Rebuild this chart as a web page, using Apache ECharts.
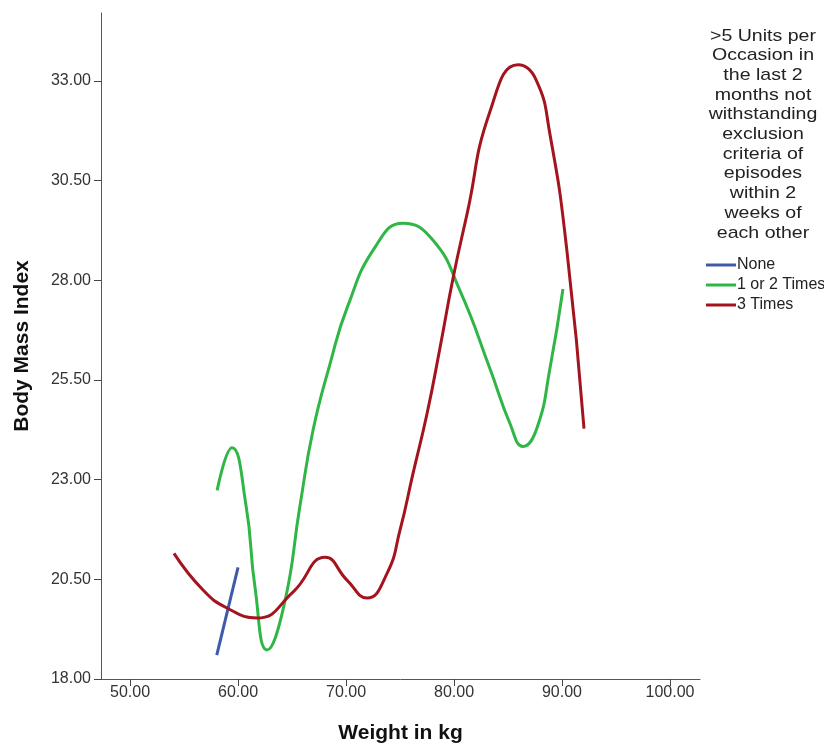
<!DOCTYPE html>
<html>
<head>
<meta charset="utf-8">
<script src="https://cdn.jsdelivr.net/npm/echarts@6/dist/echarts.min.js"></script>
<style>
  html, body { margin: 0; padding: 0; background: #fff; }
  #chart { width: 824px; height: 745px; }
</style>
</head>
<body>
<div id="chart"></div>
<script>
// Tick positions for both axes
const xTicks = [50, 60, 70, 80, 90, 100];
const yTicks = [18, 20.5, 23, 25.5, 28, 30.5, 33];

// Group names shown in the legend
const groupNames = ['None', '1 or 2 Times', '3 Times'];

// Interpolated BMI curves, [weight, bmi] pairs per group
const noneCurve = [
  [58.03, 18.6], [60.0, 20.8]
];
const oneTwoCurve = [
  [58.06, 22.73], [59.44, 23.80], [60.74, 22.35], [61.57, 20.30], [62.69, 18.73],
  [64.26, 19.85], [65.74, 22.35], [66.94, 24.23], [68.52, 25.90], [70.09, 27.30],
  [72.69, 28.83], [75.28, 29.43], [78.06, 29.00], [80.56, 27.73], [83.33, 25.78],
  [85.19, 24.40], [86.39, 23.83], [87.69, 24.30], [88.89, 25.80], [90.09, 27.78]
];
const threeCurve = [
  [54.07, 21.15], [56.76, 20.23], [58.98, 19.78], [61.76, 19.53], [65.09, 20.18],
  [68.06, 21.05], [70.09, 20.48], [71.94, 20.03], [73.80, 20.65], [75.00, 21.73],
  [76.20, 23.15], [77.50, 24.65], [78.70, 26.30], [79.91, 28.05], [81.20, 29.65],
  [83.33, 32.23], [85.93, 33.40], [87.59, 33.03], [88.89, 31.65], [90.46, 28.73],
  [92.04, 24.28]
];

const legendTitle = [
  '>5 Units per', 'Occasion in', 'the last 2', 'months not', 'withstanding',
  'exclusion', 'criteria of', 'episodes', 'within 2', 'weeks of', 'each other'
];

const colors = ['#3e5aa9', '#30b646', '#a3141f'];
const font = '"Liberation Sans", Arial, sans-serif';

const chart = echarts.init(document.getElementById('chart'));

const curves = [noneCurve, oneTwoCurve, threeCurve];

chart.setOption({
  animation: false,
  color: colors,
  textStyle: { fontFamily: font },
  grid: { left: 101, right: 124, top: 13, bottom: 66, containLabel: false, outerBoundsMode: 'none' },
  xAxis: {
    type: 'value',
    min: 47.31,
    max: 102.78,
    name: 'Weight in kg',
    nameLocation: 'middle',
    nameGap: 44,
    nameTextStyle: { fontSize: 21, fontWeight: 'bold', color: '#111', fontFamily: font },
    axisLine: { onZero: false, lineStyle: { color: '#555', width: 1 } },
    axisTick: { show: true, length: 7, lineStyle: { color: '#444' }, customValues: xTicks },
    axisLabel: {
      customValues: xTicks,
      fontSize: 16, color: '#333', margin: 6,
      formatter: v => v.toFixed(2)
    },
    splitLine: { show: false }
  },
  yAxis: {
    type: 'value',
    min: 18,
    max: 34.7,
    name: 'Body Mass Index',
    nameLocation: 'middle',
    nameGap: 68,
    nameTextStyle: { fontSize: 21, fontWeight: 'bold', color: '#111', fontFamily: font },
    axisLine: { show: true, onZero: false, lineStyle: { color: '#555', width: 1 } },
    axisTick: { show: true, length: 7, lineStyle: { color: '#444' }, customValues: yTicks },
    axisLabel: {
      customValues: yTicks,
      fontSize: 16, color: '#333', margin: 10,
      formatter: v => v.toFixed(2)
    },
    splitLine: { show: false }
  },
  legend: {
    orient: 'vertical',
    left: 701,
    top: 252,
    icon: 'rect',
    itemWidth: 30,
    itemHeight: 3,
    itemGap: 4,
    data: groupNames,
    textStyle: { fontSize: 16, lineHeight: 16, color: '#222', fontFamily: font, padding: [0, 0, 0, -4] }
  },
  graphic: [{
    type: 'text',
    x: 763,
    y: 26,
    scaleX: 1.15,
    style: {
      text: legendTitle.join('\n'),
      font: '17px ' + font,
      fill: '#222',
      align: 'center',
      verticalAlign: 'top',
      lineHeight: 19.7
    }
  }],
  series: groupNames.map((name, i) => ({
    name,
    type: 'line',
    data: curves[i],
    smooth: 0.5,
    symbol: 'none',
    lineStyle: { width: 3, color: colors[i] },
    z: 3 + i
  }))
});
</script>
</body>
</html>
